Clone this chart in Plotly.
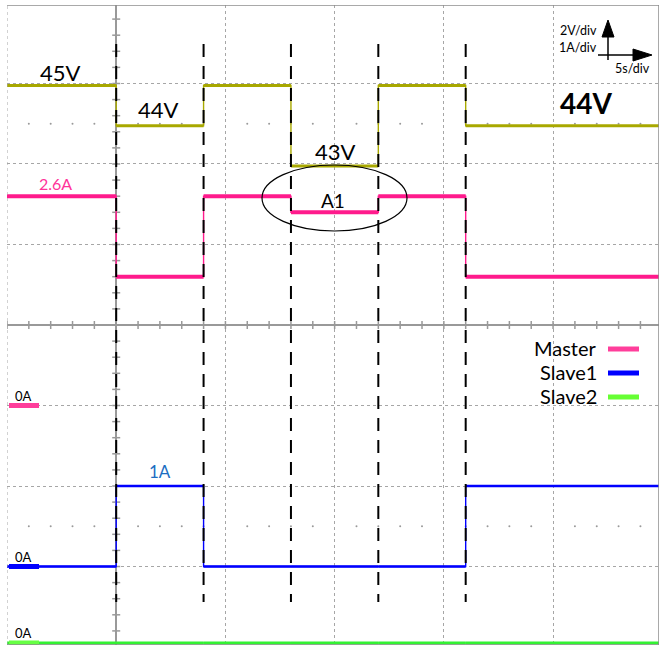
import plotly.graph_objects as go

# ---------------- data ----------------
step_times = [-5, 0, 4, 8, 12, 16, 24.85]          # s, relative to the first load step
voltage_V = [45, 44, 45, 43, 45, 44, 44]            # bus voltage
master_A = [2.6, 1.6, 2.6, 2.4, 2.6, 1.6, 1.6]      # Master current
slave1_A = [0, 1, 0, 0, 0, 1, 1]                    # Slave1 current
slave2_A = [0, 0, 0, 0, 0, 0, 0]                    # Slave2 current
event_times = [0, 4, 8, 12, 16]                     # dashed marker lines

# scope settings
V_PER_DIV = 2.0
V_OFFSET = 39.05
A_PER_DIV = 1.0
ZERO_DIV = {"Master": -1.0, "Slave1": -3.0, "Slave2": -3.95}

# ---------------- geometry helpers ----------------
W, H = 660, 648
ML, MR, MT, MB = 7, 1, 5, 3
X0, X1 = -5.0, 24.85
Y0, Y1 = -3.975, 3.975
PW, PH = W - ML - MR, H - MT - MB


def X(px):
    return X0 + (px - ML) / PW * (X1 - X0)


def Y(py):
    return Y1 - (py - MT) / PH * (Y1 - Y0)


def volts(v):
    return [(a - V_OFFSET) / V_PER_DIV for a in v]


def amps(a, name):
    return [b / A_PER_DIV + ZERO_DIV[name] for b in a]


def flats(ts, ys):
    """horizontal parts of a step trace (drawn thicker, like a noisy scope trace)"""
    fx, fy = [], []
    for i in range(len(ts) - 1):
        fx += [ts[i], ts[i + 1], None]
        fy += [ys[i], ys[i], None]
    return fx, fy


OLIVE = "#A8A800"
PINK = "#FF1A8C"
BLUE = "#0000FF"
GREEN = "#33F233"
GRID = "#A6A6A6"
FONT = "Lato"

fig = go.Figure()

# ---- minor ticks on centre axes ----
tx, ty = [], []
hx = (X(11) - X(7))
for k in range(-20, 21):
    yy = k / 5
    tx += [-hx, hx, None]
    ty += [yy, yy, None]
hy = (Y(7) - Y(11))
for k in range(-5, 25):
    tx += [k, k, None]
    ty += [-hy, hy, None]
fig.add_trace(go.Scatter(x=tx, y=ty, mode="lines", line=dict(color="#999999", width=1.5),
                         hoverinfo="skip", showlegend=False))

# ---- rows of dots at +-2.5 div ----
dx, dy = [], []
for row in (2.5, -2.5):
    for k in range(-25, 125):
        t = k * 1.0
        if t % 5 == 0 or t < X0 or t > X1:
            continue
        dx.append(t)
        dy.append(row)
fig.add_trace(go.Scatter(x=dx, y=dy, mode="markers", marker=dict(color="#9A9A9A", size=2),
                         hoverinfo="skip", showlegend=False))

# ---- traces ----
series = [
    ("Voltage", volts(voltage_V), OLIVE, 3.2),
    ("Master", amps(master_A, "Master"), PINK, 4.0),
    ("Slave1", amps(slave1_A, "Slave1"), BLUE, 2.4),
    ("Slave2", amps(slave2_A, "Slave2"), GREEN, 3.2),
]
for name, ys, col, w in series:
    fig.add_trace(go.Scatter(x=step_times, y=ys, mode="lines", line_shape="hv",
                             line=dict(color=col, width=1.4), name=name, showlegend=False))
    fx, fy = flats(step_times, ys)
    fig.add_trace(go.Scatter(x=fx, y=fy, mode="lines", line=dict(color=col, width=w),
                             name=name, showlegend=False, hoverinfo="skip"))

# ---- dashed event lines ----
for t in event_times:
    fig.add_shape(type="line", x0=t, x1=t, y0=Y(44), y1=Y(602), xref="x", yref="y",
                  line=dict(color="black", width=2, dash="13px,9px"), layer="above")

# ---- ground markers (0A) ----
for name, col in (("Master", "#FF3E9B"), ("Slave1", BLUE), ("Slave2", "#66FF44")):
    yz = ZERO_DIV[name]
    fig.add_shape(type="line", x0=X(9), x1=X(39), y0=yz, y1=yz, xref="x", yref="y",
                  line=dict(color=col, width=5))
    fig.add_annotation(x=X(23), y=yz + (Y(396) - Y(406)), text="0A", showarrow=False,
                       font=dict(family=FONT, size=13, color="black"), xanchor="center", yanchor="middle")

# ---- borders ----
fig.add_shape(type="line", x0=X0, x1=X0, y0=Y0, y1=Y1, line=dict(color=GRID, width=1, dash="dot"))
fig.add_shape(type="line", x0=X0, x1=X1, y0=Y1, y1=Y1, line=dict(color="#8C8C8C", width=1.5))
fig.add_shape(type="line", x0=X0, x1=X1, y0=Y0, y1=Y0, line=dict(color="#8C8C8C", width=1.5))
fig.add_shape(type="line", x0=X1, x1=X1, y0=Y0, y1=Y1, line=dict(color="#8C8C8C", width=1.5))

# ---- ellipse A1 ----
fig.add_shape(type="circle", x0=X(262), x1=X(407), y0=Y(231), y1=Y(165),
              line=dict(color="black", width=1.2), layer="above")

# ---- texts ----
def txt(px, py, s, size, color="black", bold=False):
    fig.add_annotation(x=X(px), y=Y(py), text=("<b>%s</b>" % s) if bold else s, showarrow=False,
                       font=dict(family=FONT, size=size, color=color),
                       xanchor="center", yanchor="middle")


txt(60, 72, "45V", 22)
txt(158, 109, "44V", 22)
txt(335, 151, "43V", 22)
txt(586, 103, "44V", 28, bold=True)
txt(55, 183, "2.6A", 16, color="#FF3399")
txt(333, 200, "A1", 19)
txt(160, 471, "1A", 17, color="#1C6DC2")

# legend
for (label, col, py) in (("Master", "#FF3E9B", 348), ("Slave1", BLUE, 372), ("Slave2", "#66FF33", 396)):
    fig.add_annotation(x=X(599), y=Y(py), text=label, showarrow=False,
                       font=dict(family=FONT, size=20, color="black"), xanchor="right", yanchor="middle")
    fig.add_shape(type="line", x0=X(608), x1=X(639), y0=Y(py + 1), y1=Y(py + 1),
                  line=dict(color=col, width=5))

# scale indicator
txt(578, 30, "2V/div", 12.5)
txt(578, 47, "1A/div", 12.5)
txt(632, 68, "5s/div", 12.5)
fig.add_shape(type="line", x0=X(608), x1=X(608), y0=Y(60), y1=Y(33), line=dict(color="black", width=1.5))
fig.add_shape(type="path", path="M %f,%f L %f,%f L %f,%f Z" % (X(602), Y(37), X(614), Y(37), X(608), Y(20)),
              fillcolor="black", line=dict(color="black", width=1))
fig.add_shape(type="line", x0=X(598), x1=X(637), y0=Y(55), y1=Y(55), line=dict(color="black", width=1.5))
fig.add_shape(type="path", path="M %f,%f L %f,%f L %f,%f Z" % (X(633), Y(49), X(633), Y(61), X(652), Y(55)),
              fillcolor="black", line=dict(color="black", width=1))

fig.update_layout(
    width=W, height=H,
    margin=dict(l=ML, r=MR, t=MT, b=MB, pad=0),
    paper_bgcolor="white", plot_bgcolor="white",
    showlegend=False,
    xaxis=dict(range=[X0, X1], dtick=5, tick0=0, showgrid=True, gridcolor=GRID, griddash="dot",
               gridwidth=1, zeroline=True, zerolinecolor="#999999", zerolinewidth=2,
               showticklabels=False, ticks="", showline=False, fixedrange=True),
    yaxis=dict(range=[Y0, Y1], dtick=1, tick0=0, showgrid=True, gridcolor=GRID, griddash="dot",
               gridwidth=1, zeroline=True, zerolinecolor="#999999", zerolinewidth=2,
               showticklabels=False, ticks="", showline=False, fixedrange=True),
)

fig.write_html("out.html", config={"displayModeBar": False},
               post_script="document.body.style.margin='0px';document.body.style.overflow='hidden';")
